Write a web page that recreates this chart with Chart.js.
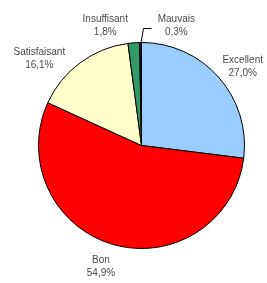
<!DOCTYPE html>
<html>
<head>
<meta charset="utf-8">
<script src="https://cdn.jsdelivr.net/npm/chart.js@4/dist/chart.umd.min.js"></script>
<style>
    html, body { margin: 0; padding: 0; background: #fff; }
    #wrap { width: 267px; height: 283px; }
</style>
</head>
<body>
<div id="wrap"><canvas id="pieChart" width="267" height="283"></canvas></div>
<script>
// Values (percent)
const categories = ['Excellent', 'Bon', 'Satisfaisant', 'Insuffisant', 'Mauvais'];
const shares = [27.0, 54.9, 16.1, 1.8, 0.3];
const shareLabels = ['27,0%', '54,9%', '16,1%', '1,8%', '0,3%'];
const sliceColors = ['#99CCFF', '#FF0000', '#FFFFCC', '#339966', '#1a1a40'];

// Outside labels, drawn like the Excel original
const outsideLabels = {
    id: 'outsideLabels',
    afterDraw(chart, args, opts) {
        const ctx = chart.ctx;
        const meta = chart.getDatasetMeta(0);
        ctx.save();
        ctx.font = '10px "Liberation Sans", Arial, sans-serif';
        ctx.fillStyle = '#4a4a4a';
        ctx.textAlign = 'center';
        ctx.textBaseline = 'middle';
        meta.data.forEach((arc, i) => {
            const mid = (arc.startAngle + arc.endAngle) / 2;
            const r = arc.outerRadius + 20;
            const shift = opts.shift[i] || [0, 0];
            const x = arc.x + Math.cos(mid) * r + shift[0];
            const y = arc.y + Math.sin(mid) * r + shift[1];
            ctx.fillText(categories[i], x, y - 6.5);
            ctx.fillText(shareLabels[i], x, y + 6.5);

            // leader line for the tiny slice
            if (i === opts.leader) {
                const ex = arc.x + Math.cos(mid) * arc.outerRadius;
                const ey = arc.y + Math.sin(mid) * arc.outerRadius;
                ctx.strokeStyle = '#000';
                ctx.lineWidth = 1;
                ctx.beginPath();
                ctx.moveTo(ex + 0.5, ey);
                ctx.lineTo(ex + 3, y + 3);
                ctx.lineTo(ex + 11, y + 3);
                ctx.stroke();
            }
        });
        ctx.restore();
    }
};

new Chart(document.getElementById('pieChart'), {
    type: 'pie',
    data: {
        labels: categories,
        datasets: [{
            data: shares,
            backgroundColor: sliceColors,
            borderColor: '#000',
            borderWidth: 1
        }]
    },
    options: {
        responsive: false,
        animation: false,
        layout: { padding: { left: 38, right: 22, top: 42, bottom: 34 } },
        plugins: {
            legend: { display: false },
            tooltip: { enabled: false },
            outsideLabels: {
                shift: [[9, 3], [-7, 3], [-29, 12], [-27, 3], [36, 3]],
                leader: 4
            }
        }
    },
    plugins: [outsideLabels]
});
</script>
</body>
</html>
